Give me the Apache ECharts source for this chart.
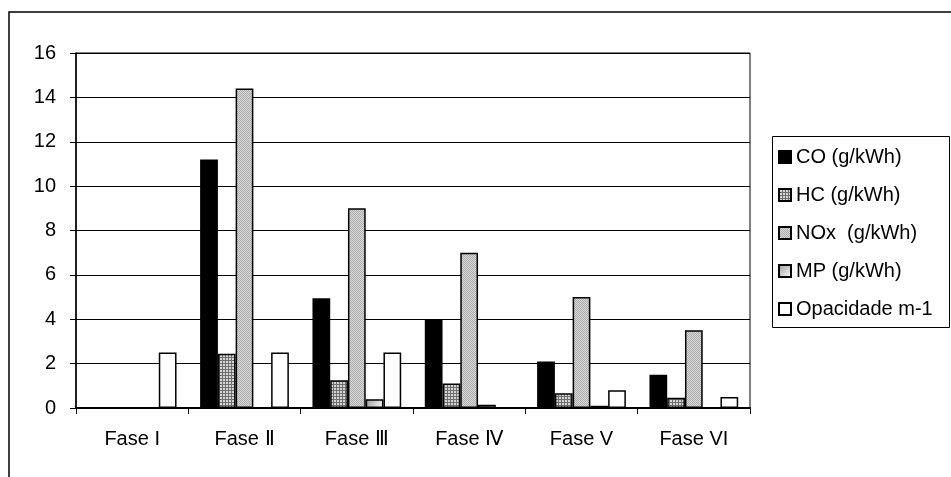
<!DOCTYPE html>
<html>
<head>
<meta charset="utf-8">
<style>html,body{margin:0;padding:0;background:#fff}#c{width:951px;height:477px}</style>
<script src="https://cdn.jsdelivr.net/npm/echarts@6/dist/echarts.min.js"></script>
</head>
<body>
<div id="c"></div>
<script>
var categories = ['Fase I', 'Fase Ⅱ', 'Fase Ⅲ', 'Fase Ⅳ', 'Fase V', 'Fase VI'];
var seriesNames = ['CO (g/kWh)', 'HC (g/kWh)', 'NOx  (g/kWh)', 'MP (g/kWh)', 'Opacidade m-1'];
var coValues = [null, 11.2, 4.95, 4.0, 2.1, 1.5];
var hcValues = [null, 2.45, 1.25, 1.1, 0.66, 0.46];
var noxValues = [null, 14.4, 9.0, 7.0, 5.0, 3.5];
var mpValues = [null, null, 0.4, 0.15, 0.1, 0.02];
var opacValues = [2.5, 2.5, 2.5, null, 0.8, 0.5];
var yTicks = {min: 0, max: 16, interval: 2};

function pattern(kind) {
  var c = document.createElement('canvas');
  var g = c.getContext('2d');
  if (kind === 'grid') {
    c.width = 3; c.height = 3;
    g.fillStyle = '#d6d6d6'; g.fillRect(0, 0, 3, 3);
    g.fillStyle = '#6e6e6e'; g.fillRect(0, 0, 3, 1); g.fillRect(0, 0, 1, 3);
  } else {
    c.width = 2; c.height = 2;
    g.fillStyle = '#dadada'; g.fillRect(0, 0, 2, 2);
    g.fillStyle = '#ababab'; g.fillRect(0, 0, 1, 1); g.fillRect(1, 1, 1, 1);
  }
  return {image: c, repeat: 'repeat'};
}

var fills = [
  '#000000',
  pattern('grid'),
  pattern('dots'),
  {type: 'linear', x: 0, y: 0, x2: 1, y2: 1, colorStops: [{offset: 0, color: '#9a9a9a'}, {offset: 1, color: '#ffffff'}]},
  '#ffffff'
];
var dataSets = [coValues, hcValues, noxValues, mpValues, opacValues];
var FONT = '"Liberation Sans", Arial, sans-serif';

var chart = echarts.init(document.getElementById('c'), null, {renderer: 'canvas'});
chart.setOption({
  animation: false,
  backgroundColor: '#ffffff',
  textStyle: {fontFamily: FONT},
  graphic: [
    {type: 'rect', shape: {x: 9, y: 12, width: 960, height: 480}, style: {fill: 'none', stroke: '#000', lineWidth: 1.5}, silent: true},
    {type: 'rect', shape: {x: 772.5, y: 136.5, width: 177, height: 191}, style: {fill: '#fff', stroke: '#000', lineWidth: 1}, z: 1, silent: true}
  ],
  legend: {
    orient: 'vertical',
    left: 773,
    top: 137,
    padding: [10, 6, 9, 5],
    itemWidth: 12,
    itemHeight: 12,
    itemGap: 18,
    itemTextGap: 5,
    icon: 'rect',
    z: 5,
    textStyle: {fontFamily: FONT, fontSize: 20, color: '#000', lineHeight: 20},
    data: seriesNames
  },
  grid: {left: 76, right: 201, top: 53, bottom: 69, show: true, borderColor: '#000', borderWidth: 1, containLabel: false},
  xAxis: {
    type: 'category',
    data: categories,
    axisLine: {lineStyle: {color: '#000', width: 2}},
    axisTick: {show: true, length: 6, lineStyle: {color: '#000', width: 1}},
    axisLabel: {color: '#000', fontSize: 20, margin: 21, fontFamily: FONT},
    splitLine: {show: false}
  },
  yAxis: {
    type: 'value',
    min: yTicks.min, max: yTicks.max, interval: yTicks.interval,
    axisLine: {show: true, lineStyle: {color: '#000', width: 1.5}},
    axisTick: {show: true, length: 6, lineStyle: {color: '#000'}},
    axisLabel: {color: '#000', fontSize: 20, margin: 20, fontFamily: FONT},
    splitLine: {show: true, lineStyle: {color: '#000', width: 1}}
  },
  series: seriesNames.map(function (name, i) {
    return {
      name: name,
      type: 'bar',
      data: dataSets[i],
      barGap: '0%',
      barCategoryGap: '21%',
      itemStyle: {color: fills[i], borderColor: '#000', borderWidth: 1.5},
      emphasis: {disabled: true}
    };
  })
});
</script>
</body>
</html>
